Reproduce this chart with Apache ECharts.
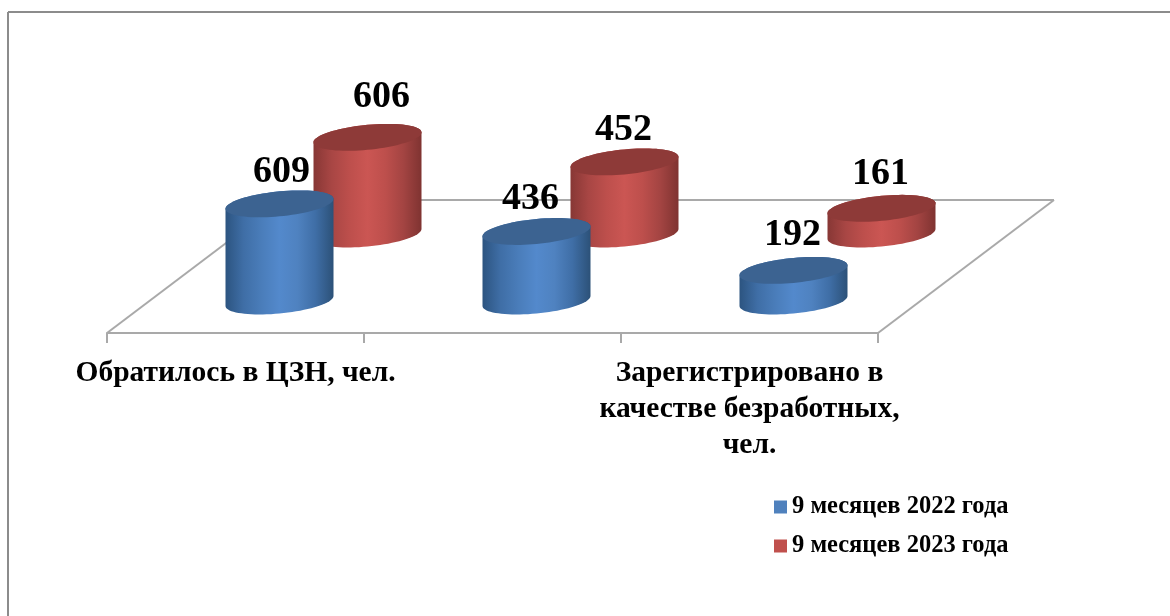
<!DOCTYPE html>
<html><head><meta charset="utf-8">
<style>html,body{margin:0;padding:0;background:#fff}#c{width:1170px;height:616px}</style>
<script src="https://cdn.jsdelivr.net/npm/echarts@6/dist/echarts.min.js"></script>
</head><body><div id="c"></div>
<script>
const categories = ['Обратилось в ЦЗН, чел.', '', 'Зарегистрировано в\nкачестве безработных,\nчел.'];
const seriesNames = ['9 месяцев 2022 года', '9 месяцев 2023 года'];
const values2022 = [609, 436, 192];
const values2023 = [606, 452, 161];

const FONT = '"Liberation Serif","Times New Roman",serif';
const chart = echarts.init(document.getElementById('c'));
const RX = 54, SHEAR = 5, RY = 12.5;
const DEPTH = [[44, -32], [132, -99]];
const NUDGE = [[[2,-32],[-6,-32],[-1,-35]], [[14,-40],[-1,-32],[-1,-34]]];
const PAL = [
 {top:'#3c6391', stops:['#2c5480','#3f6ea6','#4a7dba','#5389cc','#4f82c0','#3f6ea6','#2c5178']},
 {top:'#8e3a38', stops:['#873735','#a84644','#bd4f4c','#cb5653','#bd4f4c','#a34442','#7f3331']}
];
function ring(cx, cy, a, b, n) {
  const pts = [];
  for (let i = 0; i <= n; i++) {
    const t = a + (b - a) * i / n;
    pts.push([cx + RX * Math.cos(t), cy - SHEAR * Math.cos(t) + RY * Math.sin(t)]);
  }
  return pts;
}
function cylinder(s) {
  return function (params, api) {
    const i = params.dataIndex;
    const base = api.coord([i, 0]), top = api.coord([i, api.value(1)]);
    const d = DEPTH[s], p = PAL[s];
    const cx = base[0] + d[0], by = base[1] + d[1], ty = top[1] + d[1];
    const body = ring(cx, ty, Math.PI, 2 * Math.PI, 40).concat(ring(cx, by, 0, Math.PI, 40));
    const stops = p.stops.map((c, k) => ({offset: k / (p.stops.length - 1), color: c}));
    return {type: 'group', children: [
      {type: 'polygon', shape: {points: body}, style: {fill: {type: 'linear', x: 0, y: 0, x2: 1, y2: 0, colorStops: stops}}},
      {type: 'polygon', shape: {points: ring(cx, ty, 0, 2 * Math.PI, 80)}, style: {fill: p.top}},
      {type: 'text', x: cx + NUDGE[s][i][0], y: ty + NUDGE[s][i][1],
       style: {text: String(api.value(1)), font: 'bold 38px ' + FONT, fill: '#000', align: 'center', verticalAlign: 'middle'}}
    ]};
  };
}
const floorSeries = {
  type: 'custom', silent: true, z: 1, legendHoverLink: false, data: [[0, 0]],
  renderItem: function (params, api) {
    const a = api.coord([0, 0]);
    const w = api.size([1, 0])[0] * categories.length;
    const line = (x1, y1, x2, y2) => ({type: 'line', shape: {x1, y1, x2, y2}, style: {stroke: '#a9a9a9', lineWidth: 2}});
    const L = a[0] - api.size([1, 0])[0] / 2, Y = a[1];
    return {type: 'group', children: [
      line(L, Y, L + 176, Y - 133),
      line(L + 176, Y - 133, L + w + 176, Y - 133),
      line(L + w + 176, Y - 133, L + w, Y)
    ]};
  }
};
chart.setOption({
  animation: false,
  backgroundColor: '#fff',
  color: ['#4f81bd', '#c0504d'],
  grid: {left: 107, top: 14, width: 771, height: 319},
  xAxis: {type: 'category', data: categories,
    axisLine: {lineStyle: {color: '#a9a9a9', width: 2}},
    axisTick: {show: true, length: 10, lineStyle: {color: '#a9a9a9', width: 2}, alignWithLabel: false},
    axisLabel: {interval: 0, margin: 22, color: '#000', fontFamily: FONT, fontWeight: 'bold', fontSize: 29.5, lineHeight: 36}},
  yAxis: {type: 'value', min: 0, max: 2000, show: false, splitLine: {show: false}},
  legend: {orient: 'vertical', left: 769, top: 489, itemWidth: 13, itemHeight: 13, itemGap: 13, icon: 'rect',
    selectedMode: false, data: seriesNames,
    textStyle: {fontFamily: FONT, fontWeight: 'bold', fontSize: 24.5, color: '#000', lineHeight: 26}},
  graphic: [
    {type: 'line', shape: {x1: 8, y1: 12, x2: 8, y2: 616}, style: {stroke: '#8c8c8c', lineWidth: 2}},
    {type: 'line', shape: {x1: 8, y1: 12, x2: 1170, y2: 12}, style: {stroke: '#8c8c8c', lineWidth: 2}}
  ],
  series: [
    floorSeries,
    {name: seriesNames[1], type: 'custom', z: 2, encode: {x: 0, y: 1}, itemStyle: {color: '#c0504d'},
     data: values2023.map((v, i) => [i, v]), renderItem: cylinder(1)},
    {name: seriesNames[0], type: 'custom', z: 3, encode: {x: 0, y: 1}, itemStyle: {color: '#4f81bd'},
     data: values2022.map((v, i) => [i, v]), renderItem: cylinder(0)}
  ]
});
</script></body></html>
